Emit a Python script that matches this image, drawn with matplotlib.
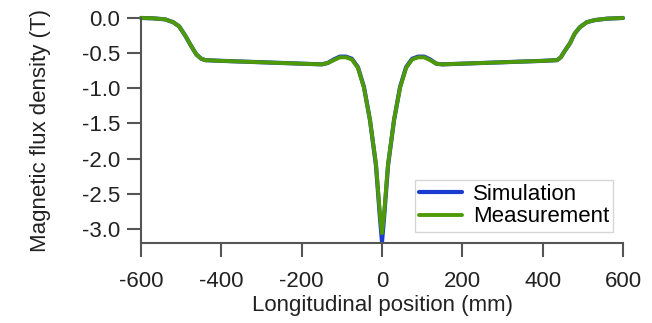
import numpy as np
import matplotlib.pyplot as plt

plt.rcParams['font.family'] = ['Liberation Sans', 'DejaVu Sans']

# longitudinal position (mm) and flux density (T)
pos = [-600, -570, -540, -520, -505, -490, -475, -462, -450, -440, -400, -300,
       -200, -150, -135, -120, -105, -90, -75, -60, -45, -30, -15, -5, 0,
       5, 15, 30, 45, 60, 75, 90, 105, 120, 135, 150, 200, 300, 400, 436,
       445, 455, 468, 480, 493, 510, 530, 560, 600]
sim = [0.0, -0.005, -0.02, -0.06, -0.12, -0.25, -0.40, -0.52, -0.58, -0.60, -0.61, -0.63,
       -0.65, -0.66, -0.64, -0.59, -0.55, -0.55, -0.58, -0.70, -0.98, -1.45, -2.10, -2.85, -3.18,
       -2.85, -2.10, -1.45, -0.98, -0.70, -0.58, -0.55, -0.55, -0.59, -0.65, -0.66, -0.65, -0.63, -0.61, -0.60,
       -0.56, -0.47, -0.36, -0.22, -0.13, -0.06, -0.03, -0.01, 0.0]
meas = [0.0, -0.005, -0.02, -0.06, -0.12, -0.25, -0.40, -0.52, -0.58, -0.60, -0.61, -0.63,
        -0.65, -0.66, -0.64, -0.60, -0.56, -0.56, -0.59, -0.71, -0.99, -1.45, -2.08, -2.80, -3.06,
        -2.80, -2.08, -1.45, -0.99, -0.71, -0.59, -0.56, -0.56, -0.60, -0.65, -0.66, -0.65, -0.63, -0.61, -0.60,
        -0.56, -0.47, -0.36, -0.22, -0.13, -0.06, -0.03, -0.01, 0.0]

xticks = [-600, -400, -200, 0, 200, 400, 600]
yticks = [0.0, -0.5, -1.0, -1.5, -2.0, -2.5, -3.0]

fs = 16

fig = plt.figure(figsize=(6.52, 3.23), dpi=100)
ax = fig.add_axes([0.2163, 0.2477, 0.7392, 0.6967])

ax.plot(pos, sim, color='#1a3bd0', lw=3.0, label='Simulation', clip_on=False,
        solid_capstyle='round', solid_joinstyle='round')
ax.plot(pos, meas, color='#4e9a06', lw=2.8, label='Measurement', clip_on=False,
        solid_capstyle='round', solid_joinstyle='round')

ax.set_xlim(-600, 600)
ax.set_ylim(-3.2, 0.0)
ax.set_xticks(xticks)
ax.set_xticklabels([str(t) for t in xticks])
ax.set_yticks(yticks)
ax.set_yticklabels(['%.1f' % t for t in yticks])

for s in ['top', 'right']:
    ax.spines[s].set_visible(False)
for s in ['left', 'bottom']:
    ax.spines[s].set_color('#555555')
    ax.spines[s].set_linewidth(1.5)
ax.tick_params(axis='both', direction='out', length=10, width=1.5, color='#555555',
               labelsize=fs, labelcolor='#222222')
ax.tick_params(axis='y', pad=5)
ax.tick_params(axis='x', pad=10)

ax.set_xlabel('Longitudinal position (mm)', fontsize=fs, color='#222222', labelpad=2)
ax.set_ylabel('Magnetic flux density (T)', fontsize=fs, color='#222222', labelpad=22)

leg = ax.legend(loc='lower right', bbox_to_anchor=(0.98, 0.05), fontsize=fs,
                frameon=True, fancybox=False, edgecolor='#cccccc', handlelength=1.9,
                borderpad=0.2, labelspacing=0.05, handletextpad=0.5, borderaxespad=0)
leg.get_frame().set_linewidth(1.0)

fig.savefig('out.png', dpi=100)
